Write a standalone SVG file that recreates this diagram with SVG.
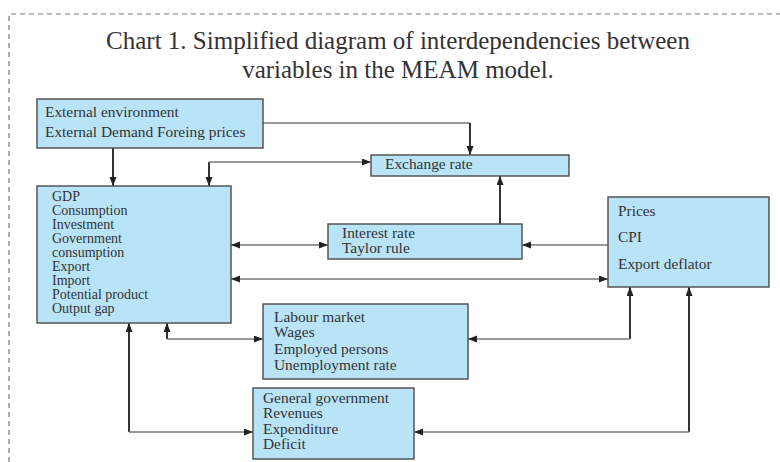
<svg xmlns="http://www.w3.org/2000/svg" width="780" height="462" viewBox="0 0 780 462">
<style>
.frame{fill:none;stroke:#777;stroke-width:1.2;stroke-dasharray:5 4}
.title{font-family:"Liberation Serif",serif;font-size:25px;fill:#333;text-anchor:middle}
.box{fill:#b9e4f8;stroke:#555;stroke-width:1.5}
.t{font-family:"Liberation Serif",serif;font-size:15.4px;fill:#333}
.g{font-family:"Liberation Serif",serif;font-size:14px;fill:#333}
.h{fill:none;stroke:#777;stroke-width:1.3}
.v{fill:none;stroke:#333;stroke-width:2}
</style>
<defs>
<marker id="ar" markerUnits="userSpaceOnUse" markerWidth="10" markerHeight="8" refX="9" refY="3.5" orient="auto-start-reverse">
<path d="M0,0 L9,3.5 L0,7 z" fill="#222"/>
</marker>
</defs>
<path class="frame" d="M9,462 V14 H780"/>
<text class="title" x="398" y="49">Chart 1. Simplified diagram of  interdependencies between</text>
<text class="title" x="398" y="78">variables in the MEAM model.</text>
<g id="connectors">
<path class="h" d="M263,123 H470"/>
<path class="v" d="M470,123 V155" marker-end="url(#ar)"/>
<path class="v" d="M113,148 V186" marker-end="url(#ar)"/>
<path class="v" d="M209,162 V186" marker-end="url(#ar)"/>
<path class="h" d="M209,162 H371" marker-end="url(#ar)"/>
<path class="v" d="M500,224 V176" marker-end="url(#ar)"/>
<path class="h" d="M231,245 H328" marker-start="url(#ar)" marker-end="url(#ar)"/>
<path class="h" d="M608,245 H522" marker-end="url(#ar)"/>
<path class="h" d="M231,279 H608" marker-start="url(#ar)" marker-end="url(#ar)"/>
<path class="v" d="M167,339 V323" marker-end="url(#ar)"/>
<path class="h" d="M167,339 H263" marker-end="url(#ar)"/>
<path class="v" d="M630,339 V287" marker-end="url(#ar)"/>
<path class="h" d="M630,339 H468" marker-end="url(#ar)"/>
<path class="v" d="M129,432 V323" marker-end="url(#ar)"/>
<path class="h" d="M129,432 H253" marker-end="url(#ar)"/>
<path class="v" d="M689,432 V287" marker-end="url(#ar)"/>
<path class="h" d="M689,432 H414" marker-end="url(#ar)"/>
</g>
<g id="external">
<rect class="box" x="37" y="99" width="226" height="49"/>
<text class="t" x="45" y="117">External environment</text>
<text class="t" x="45" y="137">External Demand Foreing prices</text>
</g>
<g id="exchange">
<rect class="box" x="371" y="155" width="198" height="21"/>
<text class="t" x="385" y="168.5">Exchange rate</text>
</g>
<g id="gdp">
<rect class="box" x="37" y="186" width="194" height="137"/>
<text class="g" x="52" y="201">GDP</text>
<text class="g" x="52" y="215">Consumption</text>
<text class="g" x="52" y="229">Investment</text>
<text class="g" x="52" y="243">Government</text>
<text class="g" x="52" y="257">consumption</text>
<text class="g" x="52" y="271">Export</text>
<text class="g" x="52" y="285">Import</text>
<text class="g" x="52" y="299">Potential product</text>
<text class="g" x="52" y="313">Output gap</text>
</g>
<g id="interest">
<rect class="box" x="328" y="224" width="194" height="35"/>
<text class="t" x="342" y="237.5">Interest rate</text>
<text class="t" x="342" y="253.3">Taylor rule</text>
</g>
<g id="prices">
<rect class="box" x="608" y="197" width="161" height="90"/>
<text class="t" x="618" y="216">Prices</text>
<text class="t" x="618" y="242.3">CPI</text>
<text class="t" x="618" y="269.3">Export deflator</text>
</g>
<g id="labour">
<rect class="box" x="263" y="304" width="205" height="75"/>
<text class="t" x="274" y="321.7">Labour market</text>
<text class="t" x="274" y="337.3">Wages</text>
<text class="t" x="274" y="354">Employed persons</text>
<text class="t" x="274" y="370">Unemployment rate</text>
</g>
<g id="government">
<rect class="box" x="253" y="388" width="161" height="71"/>
<text class="t" x="263" y="402.7">General government</text>
<text class="t" x="263" y="418.3">Revenues</text>
<text class="t" x="263" y="434">Expenditure</text>
<text class="t" x="263" y="449.3">Deficit</text>
</g>
</svg>
